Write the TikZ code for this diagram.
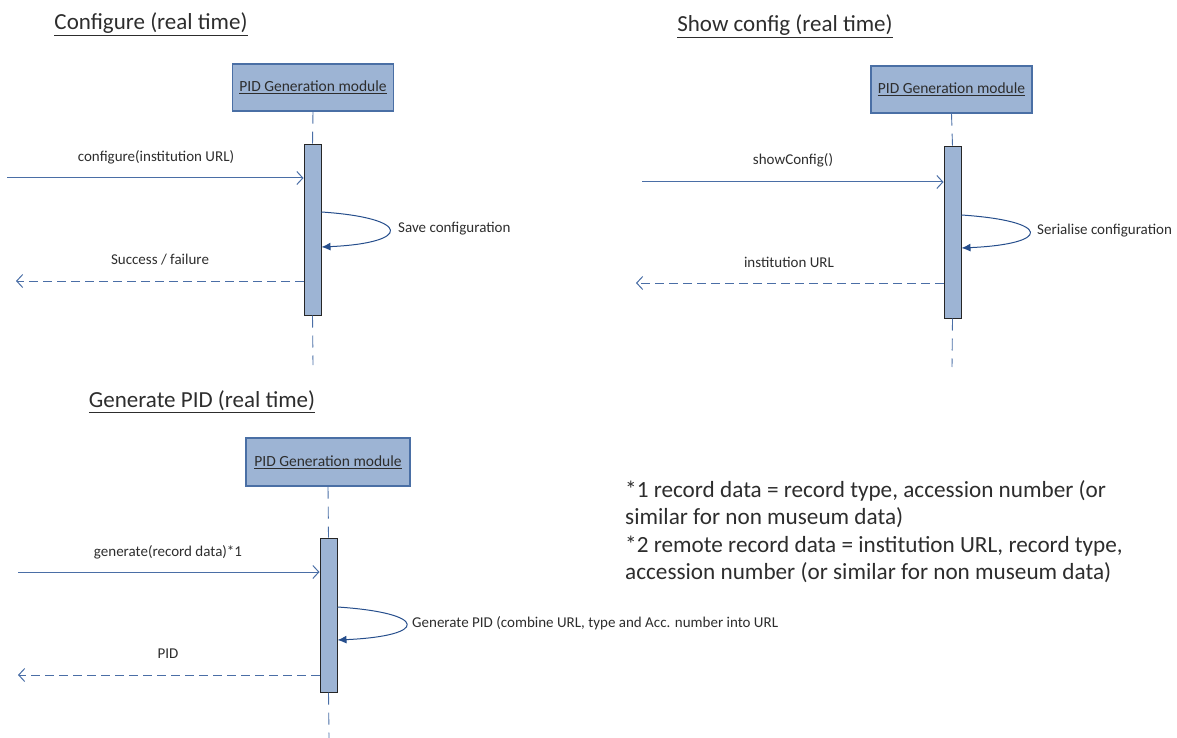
\documentclass[tikz,border=0pt]{standalone}
\usepackage{fontspec}
\setmainfont{Carlito}
\usetikzlibrary{arrows.meta}
\definecolor{boxfill}{RGB}{157,180,212}
\definecolor{boxedge}{RGB}{74,111,165}
\definecolor{msgline}{RGB}{74,110,166}
\definecolor{loopline}{RGB}{38,78,140}
\definecolor{txt}{RGB}{45,45,45}
\tikzset{
  title/.style={font=\fontsize{23}{27}\selectfont, text=txt, inner sep=0pt},
  modbox/.style={draw=boxedge, line width=1.2pt, fill=boxfill, minimum width=161pt, minimum height=47pt, font=\fontsize{15.5}{17}\selectfont, text=txt},
  actbar/.style={draw=black!85, line width=1pt, fill=boxfill, minimum width=17pt, inner sep=0pt},
  lifeline/.style={draw=msgline, line width=0.9pt, dash pattern=on 12pt off 8pt},
  call/.style={draw=msgline, line width=1pt, -{Straight Barb[length=6pt,width=13pt,line width=1pt]}},
  reply/.style={draw=msgline, line width=1pt, dash pattern=on 9pt off 5pt, -{Straight Barb[length=6pt,width=13pt,line width=1pt]}},
  selfcall/.style={draw=loopline, line width=1pt, -{Latex[length=9pt,width=8pt]}},
  lbl/.style={font=\fontsize{15}{17}\selectfont, text=txt, inner sep=0pt},
  notes/.style={font=\fontsize{23.2}{27.5}\selectfont, text=txt, inner sep=0pt, align=left}
}
\begin{document}
\begin{tikzpicture}[x=1pt, y=-1pt]
\useasboundingbox (0,0) rectangle (1177,738);

% ---------- Panel 1: Configure ----------
\node[title] (t1) at (151,24) {\underline{Configure (real time)}};
\node[modbox] (b1) at (313,87.5) {\underline{PID Generation module}};
\node[actbar, minimum height=170pt] (a1) at (312.5,230) {};
\coordinate (e1) at (313,365);
\draw[lifeline] (b1.south) -- (a1.north);
\draw[lifeline] (a1.south) -- (e1);
\coordinate (in1) at (7,178);
\draw[call] (in1) -- (in1 -| a1.west);
\node[lbl] (l1) at (156,157) {configure(institution URL)};
\coordinate (s1a) at (a1.east |- 0,212);
\coordinate (s1b) at (a1.east |- 0,247);
\draw[selfcall] (s1a) .. controls (412,218) and (412,243) .. (s1b);
\node[lbl, anchor=west] (ls1) at (398,229) {Save configuration};
\coordinate (r1) at (16,281);
\draw[reply] (r1 -| a1.west) -- (r1);
\node[lbl] (lr1) at (160,260) {Success / failure};

% ---------- Panel 2: Show config ----------
\node[title] (t2) at (785,26) {\underline{Show config (real time)}};
\node[modbox] (b2) at (951.5,89.5) {\underline{PID Generation module}};
\node[actbar, minimum height=171pt] (a2) at (952.5,232.5) {};
\coordinate (e2) at (952,367);
\draw[lifeline] (b2.south) -- (a2.north);
\draw[lifeline] (a2.south) -- (e2);
\coordinate (in2) at (642,182);
\draw[call] (in2) -- (in2 -| a2.west);
\node[lbl] (l2) at (793,160) {showConfig()};
\coordinate (s2a) at (a2.east |- 0,215);
\coordinate (s2b) at (a2.east |- 0,248);
\draw[selfcall] (s2a) .. controls (1052,221) and (1052,244) .. (s2b);
\node[lbl, anchor=west] (ls2) at (1037,231) {Serialise configuration};
\coordinate (r2) at (636,283);
\draw[reply] (r2 -| a2.west) -- (r2);
\node[lbl] (lr2) at (789,262) {institution URL};

% ---------- Panel 3: Generate PID ----------
\node[title] (t3) at (202,402) {\underline{Generate PID (real time)}};
\node[modbox, minimum width=164pt, minimum height=48pt] (b3) at (328,462) {\underline{PID Generation module}};
\node[actbar, minimum height=154pt] (a3) at (328.5,615) {};
\coordinate (e3) at (329,738);
\draw[lifeline] (b3.south) -- (a3.north);
\draw[lifeline] (a3.south) -- (e3);
\coordinate (in3) at (18,572);
\draw[call] (in3) -- (in3 -| a3.west);
\node[lbl] (l3) at (168,552) {generate(record data)*1};
\coordinate (s3a) at (a3.east |- 0,607);
\coordinate (s3b) at (a3.east |- 0,640);
\draw[selfcall] (s3a) .. controls (429,613) and (429,636) .. (s3b);
\node[lbl, anchor=west] (ls3) at (412,623) {Generate PID (combine URL, type and Acc. number into URL};
\coordinate (r3) at (18,675);
\draw[reply] (r3 -| a3.west) -- (r3);
\node[lbl] (lr3) at (168,654) {PID};

% ---------- Notes ----------
\node[notes, anchor=north west] (n1) at (625,480) {*1 record data = record type, accession number (or\\similar for non museum data)\\*2 remote record data = institution URL, record type,\\accession number (or similar for non museum data)};
\end{tikzpicture}
\end{document}
